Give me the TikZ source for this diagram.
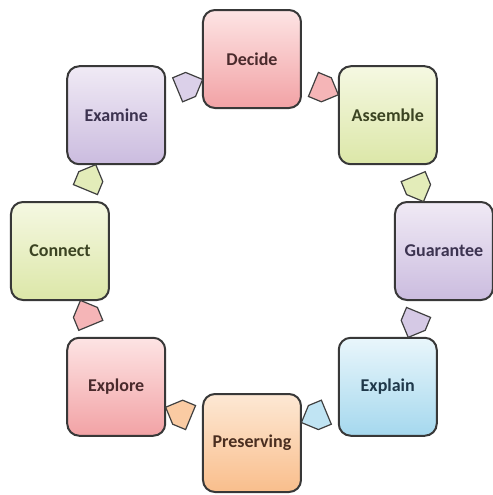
\documentclass[tikz,border=0pt]{standalone}
\usepackage{fontspec}
\setmainfont{Carlito}
\usetikzlibrary{calc,shapes.symbols}

\definecolor{pinkTop}{HTML}{FDE4E4}
\definecolor{pinkBot}{HTML}{F2A2A5}
\definecolor{pinkTxt}{HTML}{4A2A2C}
\definecolor{limeTop}{HTML}{F5F8E2}
\definecolor{limeBot}{HTML}{DCE7A8}
\definecolor{limeTxt}{HTML}{3B4322}
\definecolor{lilaTop}{HTML}{F0EAF5}
\definecolor{lilaBot}{HTML}{CBBCDF}
\definecolor{lilaTxt}{HTML}{3C3350}
\definecolor{skyTop}{HTML}{E9F6FB}
\definecolor{skyBot}{HTML}{A5D8EE}
\definecolor{skyTxt}{HTML}{1F384A}
\definecolor{peachTop}{HTML}{FDE8D4}
\definecolor{peachBot}{HTML}{F9BE8C}
\definecolor{peachTxt}{HTML}{4A2E20}

\tikzset{
	stage/.style={draw=black!78, line width=1pt, rounded corners=6pt,
		minimum width=49pt, minimum height=49pt, inner sep=1pt,
		font=\fontsize{9}{11}\selectfont\bfseries},
	turn/.style={shape=signal, signal to=east, draw=black!75, line width=0.6pt,
		minimum width=13.5pt, minimum height=13pt, inner sep=0pt}
}

\begin{document}
\begin{tikzpicture}[x=0.5pt,y=0.5pt]
		%%%%% START %%%%%
		\useasboundingbox (-252,-244) rectangle (241,251);
		
		\node[stage, top color=pinkTop, bottom color=pinkBot, text=pinkTxt] (decide) at (90:192) {Decide};
		\node[stage, top color=limeTop, bottom color=limeBot, text=limeTxt] (assemble) at (45:192) {Assemble};
		\node[stage, top color=lilaTop, bottom color=lilaBot, text=lilaTxt] (guarantee) at (0:192) {Guarantee};
		\node[stage, top color=skyTop, bottom color=skyBot, text=skyTxt] (explain) at (-45:192) {Explain};
		\node[stage, top color=peachTop, bottom color=peachBot, text=peachTxt] (preserving) at (-90:192) {Preserving};
		\node[stage, top color=pinkTop, bottom color=pinkBot, text=pinkTxt] (explore) at (-135:192) {Explore};
		\node[stage, top color=limeTop, bottom color=limeBot, text=limeTxt] (connect) at (180:192) {Connect};
		\node[stage, top color=lilaTop, bottom color=lilaBot, text=lilaTxt] (examine) at (135:192) {Examine};
		
		% arrows between the stages, coloured like the stage they leave
		\node[turn, fill=lilaBot!70, rotate=22.5] (t1) at ($(examine)!0.5!(decide)$) {};
		\node[turn, fill=pinkBot!80, rotate=-22.5] (t2) at ($(decide)!0.5!(assemble)$) {};
		\node[turn, fill=limeBot!80, rotate=-67.5] (t3) at ($(assemble)!0.5!(guarantee)$) {};
		\node[turn, fill=lilaBot!80, rotate=-112.5] (t4) at ($(guarantee)!0.5!(explain)$) {};
		\node[turn, fill=skyBot!70, rotate=-157.5] (t5) at ($(explain)!0.5!(preserving)$) {};
		\node[turn, fill=peachBot!80, rotate=157.5] (t6) at ($(preserving)!0.5!(explore)$) {};
		\node[turn, fill=pinkBot!80, rotate=112.5] (t7) at ($(explore)!0.5!(connect)$) {};
		\node[turn, fill=limeBot!80, rotate=67.5] (t8) at ($(connect)!0.5!(examine)$) {};
		
		%%%%% END %%%%%
\end{tikzpicture}
\end{document}
